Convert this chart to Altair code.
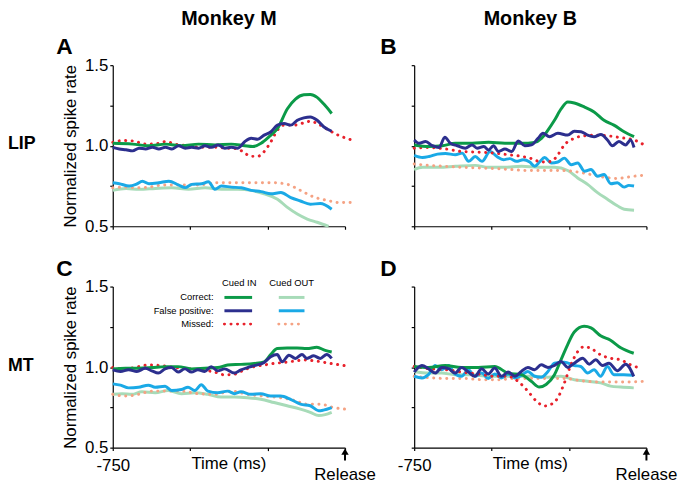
import altair as alt
import pandas as pd

# ---------------- data ----------------
TIME_DOMAIN = [-750, 0]
RATE_DOMAIN = [0.5, 1.5]
TIME_TICKS = [-750, -500, -250, 0]
RATE_TICKS = [0.5, 0.75, 1.0, 1.25, 1.5]

COLUMN_TITLES = ["Monkey M", "Monkey B"]
ROW_TITLES = ["LIP", "MT"]
PANEL_LETTERS = ["A", "B", "C", "D"]
LEGEND_ROWS = ["Correct:", "False positive:", "Missed:"]
LEGEND_COLS = ["Cued IN", "Cued OUT"]

# ---- Panel A (Monkey M, LIP) ----
A_CORRECT_IN = [[-750, 1.015], [-686, 1.01], [-633, 1.0], [-580, 1.01], [-527, 1.0], [-473, 1.01],
                [-420, 1.005], [-367, 1.01], [-324, 1.0], [-298, 0.995], [-271, 1.015], [-245, 1.056],
                [-218, 1.107], [-186, 1.23], [-160, 1.29], [-133, 1.316], [-112, 1.318], [-90, 1.30],
                [-69, 1.26], [-43, 1.20]]
A_FP_IN = [[-750, 0.99], [-729, 0.98], [-707, 0.975], [-686, 0.968], [-665, 0.985], [-644, 0.98],
           [-622, 0.99], [-601, 0.98], [-580, 0.99], [-559, 0.98], [-537, 1.0], [-516, 0.985],
           [-495, 0.99], [-473, 0.985], [-452, 1.0], [-431, 0.99], [-410, 1.005], [-388, 0.985],
           [-367, 0.99], [-346, 0.985], [-324, 1.025], [-303, 1.046], [-282, 1.04], [-261, 1.066],
           [-239, 1.087], [-218, 1.128], [-197, 1.138], [-175, 1.128], [-154, 1.158], [-133, 1.173],
           [-112, 1.179], [-90, 1.158], [-69, 1.118], [-43, 1.09]]
A_MISSED_IN = [[-750, 1.021], [-718, 1.032], [-686, 1.03], [-644, 1.01], [-601, 1.015], [-580, 1.026],
               [-548, 1.01], [-505, 1.0], [-463, 0.99], [-420, 0.99], [-378, 0.985], [-346, 0.98],
               [-324, 0.954], [-303, 0.934], [-282, 0.934], [-261, 0.964], [-239, 1.026], [-218, 1.097],
               [-197, 1.128], [-165, 1.128], [-133, 1.142], [-112, 1.152], [-90, 1.138], [-58, 1.103],
               [-27, 1.07], [21, 1.036]]
A_CORRECT_OUT = [[-750, 0.723], [-707, 0.735], [-665, 0.729], [-612, 0.735], [-559, 0.739], [-505, 0.729],
                 [-452, 0.739], [-399, 0.729], [-346, 0.729], [-303, 0.723], [-261, 0.702], [-218, 0.668],
                 [-186, 0.617], [-154, 0.576], [-122, 0.545], [-90, 0.525], [-53, 0.5]]
A_FP_OUT = [[-750, 0.77], [-729, 0.764], [-697, 0.75], [-675, 0.76], [-654, 0.78], [-633, 0.764],
            [-601, 0.77], [-569, 0.78], [-537, 0.756], [-516, 0.74], [-495, 0.76], [-463, 0.764],
            [-441, 0.776], [-420, 0.729], [-399, 0.75], [-367, 0.743], [-335, 0.739], [-303, 0.723],
            [-271, 0.715], [-239, 0.702], [-207, 0.709], [-175, 0.678], [-144, 0.657], [-112, 0.637],
            [-80, 0.641], [-43, 0.606]]
A_MISSED_OUT = [[-750, 0.739], [-707, 0.743], [-665, 0.739], [-633, 0.743], [-590, 0.756], [-527, 0.756],
                [-473, 0.756], [-420, 0.77], [-356, 0.77], [-292, 0.77], [-229, 0.77], [-186, 0.76],
                [-144, 0.723], [-101, 0.682], [-58, 0.661], [-16, 0.647], [21, 0.647]]

# ---- Panel B (Monkey B, LIP) ----
B_CORRECT_IN = [[-750, 1.005], [-702, 0.995], [-659, 1.0], [-617, 1.015], [-563, 1.015], [-510, 1.021],
                [-457, 1.015], [-403, 1.015], [-361, 1.021], [-339, 1.046], [-318, 1.097], [-297, 1.158],
                [-275, 1.23], [-254, 1.271], [-233, 1.265], [-200, 1.24], [-169, 1.21], [-137, 1.158],
                [-105, 1.128], [-72, 1.087], [-40, 1.056]]
B_FP_IN = [[-750, 1.036], [-734, 1.015], [-713, 1.026], [-691, 1.0], [-670, 0.989], [-651, 1.052],
           [-633, 1.015], [-611, 1.0], [-585, 0.985], [-563, 1.005], [-547, 0.985], [-525, 0.995],
           [-510, 0.974], [-494, 1.0], [-478, 0.964], [-457, 0.98], [-435, 0.964], [-414, 1.03],
           [-393, 1.0], [-371, 1.005], [-350, 1.046], [-334, 1.077], [-313, 1.056], [-286, 1.077],
           [-254, 1.066], [-233, 1.09], [-211, 1.087], [-190, 1.066], [-169, 1.056], [-147, 1.07],
           [-126, 1.036], [-110, 1.0], [-89, 1.026], [-67, 1.005], [-51, 1.036], [-40, 0.989]]
B_MISSED_IN = [[-750, 0.985], [-702, 0.989], [-649, 0.98], [-595, 0.964], [-542, 0.96], [-489, 0.954],
               [-446, 0.944], [-403, 0.934], [-371, 0.92], [-339, 0.899], [-307, 0.903], [-286, 0.944],
               [-265, 1.005], [-233, 1.046], [-200, 1.062], [-169, 1.066], [-126, 1.062], [-83, 1.05],
               [-40, 1.036], [-3, 1.0]]
B_CORRECT_OUT = [[-750, 0.852], [-723, 0.866], [-670, 0.866], [-617, 0.872], [-553, 0.878], [-510, 0.866],
                 [-457, 0.866], [-403, 0.872], [-350, 0.866], [-297, 0.866], [-254, 0.846], [-222, 0.80],
                 [-190, 0.76], [-158, 0.709], [-126, 0.668], [-94, 0.627], [-72, 0.606], [-40, 0.60]]
B_FP_OUT = [[-750, 0.94], [-723, 0.927], [-702, 0.933], [-675, 0.948], [-649, 0.952], [-617, 0.944],
            [-595, 0.954], [-574, 0.903], [-553, 0.933], [-531, 0.903], [-505, 0.964], [-483, 0.933],
            [-462, 0.913], [-441, 0.92], [-420, 0.903], [-398, 0.913], [-377, 0.899], [-361, 0.872],
            [-345, 0.899], [-329, 0.927], [-307, 0.893], [-286, 0.899], [-265, 0.923], [-243, 0.882],
            [-222, 0.893], [-200, 0.842], [-179, 0.852], [-158, 0.811], [-137, 0.821], [-115, 0.764],
            [-94, 0.77], [-72, 0.743], [-57, 0.754], [-40, 0.75]]
B_MISSED_OUT = [[-750, 0.887], [-702, 0.878], [-649, 0.872], [-595, 0.866], [-542, 0.862], [-489, 0.858],
                [-435, 0.852], [-382, 0.846], [-329, 0.846], [-275, 0.846], [-222, 0.837], [-179, 0.821],
                [-137, 0.805], [-94, 0.797], [-62, 0.805], [-30, 0.813], [-3, 0.817]]

# ---- Panel C (Monkey M, MT) ----
C_CORRECT_IN = [[-750, 0.989], [-709, 0.993], [-667, 0.993], [-624, 0.997], [-581, 1.003], [-539, 1.003],
                [-496, 0.989], [-453, 0.993], [-411, 0.997], [-379, 1.013], [-336, 1.017], [-293, 1.023],
                [-261, 1.033], [-240, 1.078], [-219, 1.115], [-187, 1.119], [-155, 1.119], [-123, 1.115],
                [-91, 1.123], [-64, 1.104], [-43, 1.094]]
C_FP_IN = [[-750, 0.983], [-725, 0.973], [-699, 0.983], [-672, 0.973], [-645, 0.993], [-624, 0.977],
           [-603, 0.963], [-581, 0.989], [-560, 0.997], [-539, 0.969], [-517, 0.989], [-496, 0.969],
           [-475, 0.983], [-453, 0.973], [-432, 1.003], [-411, 0.977], [-389, 0.989], [-357, 0.963],
           [-336, 0.983], [-315, 0.997], [-293, 1.009], [-261, 1.029], [-240, 1.064], [-219, 1.078],
           [-203, 1.033], [-181, 1.074], [-160, 1.054], [-139, 1.078], [-123, 1.054], [-101, 1.07],
           [-80, 1.054], [-59, 1.078], [-43, 1.054]]
C_MISSED_IN = [[-750, 0.997], [-709, 0.989], [-667, 1.003], [-635, 1.013], [-592, 1.009], [-549, 0.997],
               [-507, 0.989], [-464, 0.983], [-421, 0.969], [-389, 0.952], [-357, 0.956], [-325, 0.983],
               [-293, 1.003], [-261, 1.013], [-229, 1.023], [-197, 1.029], [-165, 1.037], [-133, 1.044],
               [-91, 1.037], [-48, 1.023], [0, 1.009]]
C_CORRECT_OUT = [[-750, 0.831], [-720, 0.835], [-688, 0.831], [-656, 0.847], [-613, 0.841], [-571, 0.855],
                 [-528, 0.835], [-485, 0.841], [-443, 0.831], [-400, 0.814], [-357, 0.814], [-315, 0.81],
                 [-272, 0.80], [-229, 0.78], [-187, 0.76], [-144, 0.739], [-112, 0.719], [-85, 0.699],
                 [-64, 0.705], [-43, 0.719]]
C_FP_OUT = [[-750, 0.896], [-725, 0.888], [-699, 0.871], [-667, 0.875], [-635, 0.888], [-613, 0.875],
            [-581, 0.881], [-560, 0.855], [-528, 0.861], [-507, 0.875], [-485, 0.855], [-464, 0.891],
            [-443, 0.851], [-411, 0.841], [-379, 0.851], [-357, 0.835], [-336, 0.847], [-304, 0.831],
            [-272, 0.835], [-240, 0.82], [-208, 0.82], [-176, 0.80], [-144, 0.77], [-112, 0.76],
            [-85, 0.729], [-70, 0.733], [-43, 0.749]]
C_MISSED_OUT = [[-750, 0.831], [-709, 0.82], [-667, 0.831], [-624, 0.851], [-581, 0.851], [-528, 0.851],
                [-475, 0.835], [-421, 0.831], [-368, 0.851], [-315, 0.831], [-261, 0.82], [-208, 0.81],
                [-165, 0.794], [-123, 0.77], [-80, 0.77], [-37, 0.749], [0, 0.739]]

# ---- Panel D (Monkey B, MT) ----
D_CORRECT_IN = [[-750, 1.004], [-704, 0.998], [-650, 1.01], [-597, 0.998], [-543, 0.998], [-490, 1.004],
                [-447, 0.963], [-404, 0.953], [-372, 0.912], [-346, 0.876], [-324, 0.892], [-297, 0.953],
                [-276, 1.045], [-255, 1.137], [-233, 1.218], [-201, 1.253], [-179, 1.243], [-148, 1.194],
                [-116, 1.167], [-83, 1.12], [-41, 1.086]]
D_FP_IN = [[-750, 0.969], [-725, 1.01], [-704, 0.99], [-682, 0.963], [-661, 0.998], [-639, 0.99],
           [-618, 0.963], [-597, 0.998], [-575, 0.969], [-554, 0.943], [-532, 0.99], [-511, 0.957],
           [-490, 0.994], [-468, 0.943], [-447, 0.969], [-425, 0.943], [-404, 0.973], [-383, 0.998],
           [-361, 0.984], [-340, 1.014], [-318, 0.998], [-297, 1.01], [-276, 1.035], [-254, 0.998],
           [-233, 1.024], [-206, 1.055], [-185, 1.018], [-164, 1.045], [-142, 1.01], [-121, 1.024],
           [-94, 0.978], [-67, 1.018], [-41, 0.943]]
D_MISSED_IN = [[-750, 1.004], [-704, 0.99], [-650, 0.984], [-597, 0.969], [-543, 0.957], [-490, 0.943],
               [-447, 0.943], [-415, 0.912], [-383, 0.851], [-356, 0.79], [-329, 0.759], [-308, 0.769],
               [-286, 0.81], [-265, 0.902], [-244, 1.014], [-222, 1.096], [-201, 1.127], [-179, 1.116],
               [-148, 1.076], [-116, 1.055], [-83, 1.045], [-51, 1.014], [-14, 0.99]]
D_CORRECT_OUT = [[-750, 0.973], [-704, 0.963], [-661, 0.963], [-618, 0.953], [-565, 0.953], [-511, 0.943],
                 [-457, 0.943], [-404, 0.943], [-361, 0.943], [-318, 0.937], [-276, 0.943], [-233, 0.922],
                 [-190, 0.912], [-148, 0.902], [-116, 0.882], [-83, 0.876], [-41, 0.871]]
D_FP_OUT = [[-750, 0.943], [-725, 0.933], [-704, 0.953], [-682, 1.01], [-661, 0.984], [-639, 1.01],
            [-618, 0.957], [-597, 0.943], [-575, 0.984], [-554, 0.943], [-532, 0.963], [-511, 0.929],
            [-490, 0.957], [-468, 0.933], [-447, 0.957], [-425, 0.933], [-404, 0.949], [-383, 0.973],
            [-361, 0.943], [-340, 0.937], [-318, 0.973], [-297, 1.024], [-265, 1.031], [-233, 1.01],
            [-212, 1.004], [-190, 0.963], [-169, 0.984], [-148, 0.943], [-126, 1.004], [-105, 0.953],
            [-73, 0.953], [-41, 0.949]]
D_MISSED_OUT = [[-750, 0.943], [-693, 0.933], [-639, 0.929], [-586, 0.929], [-532, 0.922], [-479, 0.922],
                [-425, 0.929], [-372, 0.929], [-318, 0.929], [-265, 0.929], [-212, 0.916], [-158, 0.908],
                [-105, 0.908], [-51, 0.908], [-9, 0.912]]

# ---------------- styling ----------------
FONT = "Liberation Sans"
W, H = 235, 163
STYLE = {
    "Correct IN": dict(color="#0b9a48"),
    "False positive IN": dict(color="#2c2f8e"),
    "Missed IN": dict(color="#e8212b", dash=True),
    "Correct OUT": dict(color="#a7dbb8"),
    "False positive OUT": dict(color="#1aa9e6"),
    "Missed OUT": dict(color="#f5a283", dash=True),
}
DRAW_ORDER = ["Correct OUT", "Missed OUT", "False positive OUT", "Missed IN", "Correct IN", "False positive IN"]

PANELS = {
    "A": {"Correct IN": A_CORRECT_IN, "False positive IN": A_FP_IN, "Missed IN": A_MISSED_IN,
          "Correct OUT": A_CORRECT_OUT, "False positive OUT": A_FP_OUT, "Missed OUT": A_MISSED_OUT},
    "B": {"Correct IN": B_CORRECT_IN, "False positive IN": B_FP_IN, "Missed IN": B_MISSED_IN,
          "Correct OUT": B_CORRECT_OUT, "False positive OUT": B_FP_OUT, "Missed OUT": B_MISSED_OUT},
    "C": {"Correct IN": C_CORRECT_IN, "False positive IN": C_FP_IN, "Missed IN": C_MISSED_IN,
          "Correct OUT": C_CORRECT_OUT, "False positive OUT": C_FP_OUT, "Missed OUT": C_MISSED_OUT},
    "D": {"Correct IN": D_CORRECT_IN, "False positive IN": D_FP_IN, "Missed IN": D_MISSED_IN,
          "Correct OUT": D_CORRECT_OUT, "False positive OUT": D_FP_OUT, "Missed OUT": D_MISSED_OUT},
}


def line_props(name, width=3):
    st = STYLE[name]
    props = dict(color=st["color"], strokeWidth=width)
    if st.get("dash"):
        props.update(strokeDash=[0.1, 6.5], strokeCap="round")
    return props


def text_layer(txt, x, y, size, bold=False, align="center", baseline="alphabetic"):
    kw = dict(font=FONT, fontSize=size, align=align, baseline=baseline, color="black",
              fontWeight="bold" if bold else "normal")
    return alt.Chart(pd.DataFrame({"s": [txt]})).mark_text(**kw).encode(
        text="s:N", x=alt.value(x), y=alt.value(y))


def panel(letter, col, row):
    left = col == 0
    bottom = row == 1
    xa = dict(values=TIME_TICKS, title=None, grid=False, tickSize=3, tickColor="black",
              domainColor="black", domainWidth=1.2, tickWidth=1.2)
    if bottom:
        xa.update(labels=True, labelExpr="datum.value == -750 ? '-750' : ''", labelFontSize=17,
                  labelFont=FONT, labelColor="black", labelPadding=7, labelFlush=False)
    else:
        xa.update(labels=False)
    ya = dict(values=RATE_TICKS, grid=False, tickSize=3, tickColor="black",
              domainColor="black", domainWidth=1.2, tickWidth=1.2)
    if left:
        ya.update(labels=True,
                  labelExpr="(datum.value == 0.75 || datum.value == 1.25) ? '' : format(datum.value, '.1f')",
                  labelFontSize=17, labelFont=FONT, labelColor="black", labelPadding=2,
                  title="Normalized spike rate", titleFontSize=17, titleFont=FONT,
                  titleFontWeight="normal", titleColor="black", titlePadding=5)
    else:
        ya.update(labels=False, title=None)

    x_enc = alt.X("t:Q", scale=alt.Scale(domain=TIME_DOMAIN, nice=False, zero=False), axis=alt.Axis(**xa))
    y_enc = alt.Y("v:Q", scale=alt.Scale(domain=RATE_DOMAIN, nice=False, zero=False), axis=alt.Axis(**ya))

    layers = []
    for name in DRAW_ORDER:
        df = pd.DataFrame(PANELS[letter][name], columns=["t", "v"])
        layers.append(alt.Chart(df).mark_line(interpolate="monotone", **line_props(name)).encode(
            x=x_enc, y=y_enc))

    # panel letter
    layers.append(text_layer(letter, -49 if left else -26, -11, 23, bold=True))
    if row == 0:
        layers.append(text_layer(COLUMN_TITLES[col], W / 2, -41, 20, bold=True))
    if left:
        layers.append(text_layer(ROW_TITLES[row], -106, 80, 18, bold=True, align="left", baseline="middle"))
    if bottom:
        layers.append(text_layer("Time (ms)", W / 2, H + 17, 17, baseline="middle"))
        layers.append(text_layer("Release", W, H + 28, 17, baseline="middle"))
        one = pd.DataFrame({"k": [0]})
        layers.append(alt.Chart(one).mark_point(shape="triangle-up", filled=True, size=55, color="black",
                                                opacity=1).encode(x=alt.value(W), y=alt.value(H + 4)))
        layers.append(alt.Chart(one).mark_rule(color="black", strokeWidth=2).encode(
            x=alt.value(W), y=alt.value(H + 6), y2=alt.value(H + 13)))
    if letter == "C":
        # legend
        layers.append(text_layer(LEGEND_COLS[0], 128, -4, 9.5, baseline="middle"))
        layers.append(text_layer(LEGEND_COLS[1], 181, -4, 9.5, baseline="middle"))
        names = [("Correct IN", "Correct OUT"), ("False positive IN", "False positive OUT"),
                 ("Missed IN", "Missed OUT")]
        for i, lab in enumerate(LEGEND_ROWS):
            yy = 11 + 13.5 * i
            layers.append(text_layer(lab, 102, yy, 9.5, align="right", baseline="middle"))
            one = pd.DataFrame({"k": [0]})
            for (x0, x1), nm in zip([(113, 141), (168, 194)], names[i]):
                layers.append(alt.Chart(one).mark_rule(**line_props(nm)).encode(
                    x=alt.value(x0), x2=alt.value(x1), y=alt.value(yy)))

    return alt.layer(*layers).properties(width=W, height=H)


chart = alt.concat(
    panel("A", 0, 0), panel("B", 1, 0), panel("C", 0, 1), panel("D", 1, 1),
    columns=2, spacing=alt.RowColnumber(row=61, column=70), bounds="flush",
).properties(
    padding={"left": 0, "top": -2, "right": 5, "bottom": 5}
).configure(font=FONT).configure_view(stroke=None)

chart.save("out.html", embed_options={"renderer": "svg", "actions": False})
